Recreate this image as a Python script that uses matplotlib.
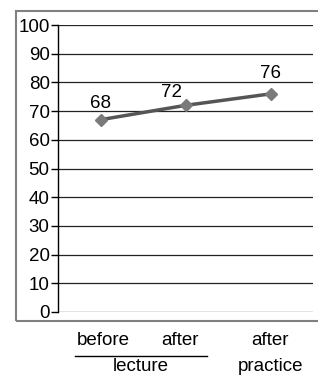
import matplotlib.pyplot as plt
import matplotlib.patches as patches
from matplotlib.lines import Line2D

plt.rcParams['font.family'] = ['Liberation Sans', 'DejaVu Sans']

# data
stages = ["before", "after", "after"]
stages2 = ["", "", "practice"]
values = [67, 72, 76]
value_labels = ["68", "72", "76"]
yticks = list(range(0, 101, 10))

fs = 13.5

fig = plt.figure(figsize=(3.18, 3.77), dpi=100)
ax = fig.add_axes([58/318, 1-312/377, 255/318, 287/377])

# outer gray frame (right side runs off the image)
fig.patches.append(patches.Rectangle((16/318, 1-321/377), 1.2, 310/377,
                                     transform=fig.transFigure, fill=False,
                                     edgecolor="#808080", linewidth=1.5))

x = list(range(len(values)))
ax.plot(x, values, color="#555555", linewidth=2.5, marker="D",
        markersize=6, markerfacecolor="#7a7a7a", markeredgecolor="#7a7a7a", zorder=3)

offsets = [(0, 12), (-10, 9), (0, 15)]
for xi, v, lab, off in zip(x, values, value_labels, offsets):
    ax.annotate(lab, (xi, v), xytext=off, textcoords="offset points",
                ha="center", va="center", fontsize=fs)

ax.set_xlim(-0.5, 2.5)
ax.set_ylim(0, 100)
ax.set_yticks(yticks)
ax.tick_params(axis="y", labelsize=fs, length=5, width=1, pad=1)
ax.set_xticks([])
for s in ["top", "right", "bottom"]:
    ax.spines[s].set_visible(False)
ax.spines["left"].set_linewidth(1)
ax.grid(axis="y", color="#222222", linewidth=0.9)
ax.set_axisbelow(True)

# category labels
tr = ax.get_xaxis_transform()
ax.text(0.03, -0.10, stages[0], transform=tr, ha="center", va="center", fontsize=fs)
ax.text(0.93, -0.10, stages[1], transform=tr, ha="center", va="center", fontsize=fs)
ax.text(2.0, -0.10, stages[2], transform=tr, ha="center", va="center", fontsize=fs)
ax.text(2.0, -0.19, stages2[2], transform=tr, ha="center", va="center", fontsize=fs)
ax.text(0.47, -0.19, "lecture", transform=tr, ha="center", va="center", fontsize=fs)
fig.lines.append(Line2D([75/318, 207/318], [1-355.5/377, 1-355.5/377],
                        transform=fig.transFigure, color="black", linewidth=1))

fig.savefig("out.png", dpi=100)
